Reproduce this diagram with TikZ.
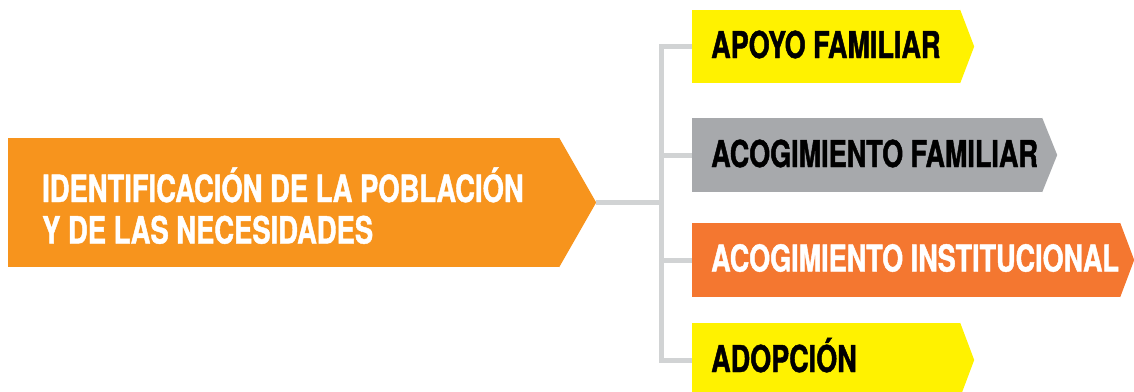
\documentclass[tikz,border=0pt]{standalone}
\usepackage{fontspec}
\newfontfamily\condfont{TeX Gyre Heros}[FakeStretch=0.73, FakeBold=1.2]
\definecolor{mainor}{HTML}{F7941D}
\definecolor{instor}{HTML}{F47730}
\definecolor{yel}{HTML}{FFF200}
\definecolor{gry}{HTML}{A7A9AC}
\definecolor{linegray}{HTML}{D1D3D4}
\tikzset{
  boxnode/.style={rectangle, inner sep=0pt, draw=none},
  lbl/.style={anchor=base west, inner sep=0pt, font=\condfont\bfseries\fontsize{37}{42}\selectfont},
  mainlbl/.style={anchor=base west, inner sep=0pt, font=\condfont\bfseries\fontsize{37.5}{41.5}\selectfont},
  conn/.style={draw=linegray, line width=5pt}
}
\begin{document}
\begin{tikzpicture}[x=1pt,y=-1pt]
\useasboundingbox (0,0) rectangle (1134,391);
% junction coordinates
\coordinate (jm) at (661,202.5);
\coordinate (j1) at (661,46.5);
\coordinate (j2) at (661,155);
\coordinate (j3) at (661,260);
\coordinate (j4) at (661,360);
% boxes
\node[boxnode, fill=mainor, minimum width=551pt, minimum height=129pt] (main) at (283.5,202.5) {};
\fill[mainor] (main.north east) -- ([xshift=37pt]main.east) coordinate (maintip) -- (main.south east) -- cycle;
\node[boxnode, fill=yel, minimum width=268pt, minimum height=73pt] (b1) at (826,46.5) {};
\fill[yel] (b1.north east) -- ([xshift=14pt]b1.east) -- (b1.south east) -- cycle;
\node[boxnode, fill=gry, minimum width=350pt, minimum height=74pt] (b2) at (867,155) {};
\fill[gry] (b2.north east) -- ([xshift=15pt]b2.east) -- (b2.south east) -- cycle;
\node[boxnode, fill=instor, minimum width=428pt, minimum height=74pt] (b3) at (906,260) {};
\fill[instor] (b3.north east) -- ([xshift=14pt]b3.east) -- (b3.south east) -- cycle;
\node[boxnode, fill=yel, minimum width=268pt, minimum height=74pt] (b4) at (826,360) {};
\fill[yel] (b4.north east) -- ([xshift=14pt]b4.east) -- (b4.south east) -- cycle;
% connectors
\draw[conn] (maintip) -- (jm);
\draw[conn] (b1.west) -- (j1) -- (j4) -- (b4.west);
\draw[conn] (j2) -- (b2.west);
\draw[conn] (j3) -- (b3.west);
% labels
\node[mainlbl, text=white] (tmain) at (42,202) {\begin{tabular}[t]{@{}l@{}}IDENTIFICACIÓN DE LA POBLACIÓN\\Y DE LAS NECESIDADES\end{tabular}};
\node[lbl, text=black] (t1) at (711,58) {APOYO FAMILIAR};
\node[lbl, text=black] (t2) at (711,167) {ACOGIMIENTO FAMILIAR};
\node[lbl, text=white] (t3) at (711,271.5) {ACOGIMIENTO INSTITUCIONAL};
\node[lbl, text=black] (t4) at (711,372) {ADOPCIÓN};
\end{tikzpicture}
\end{document}
